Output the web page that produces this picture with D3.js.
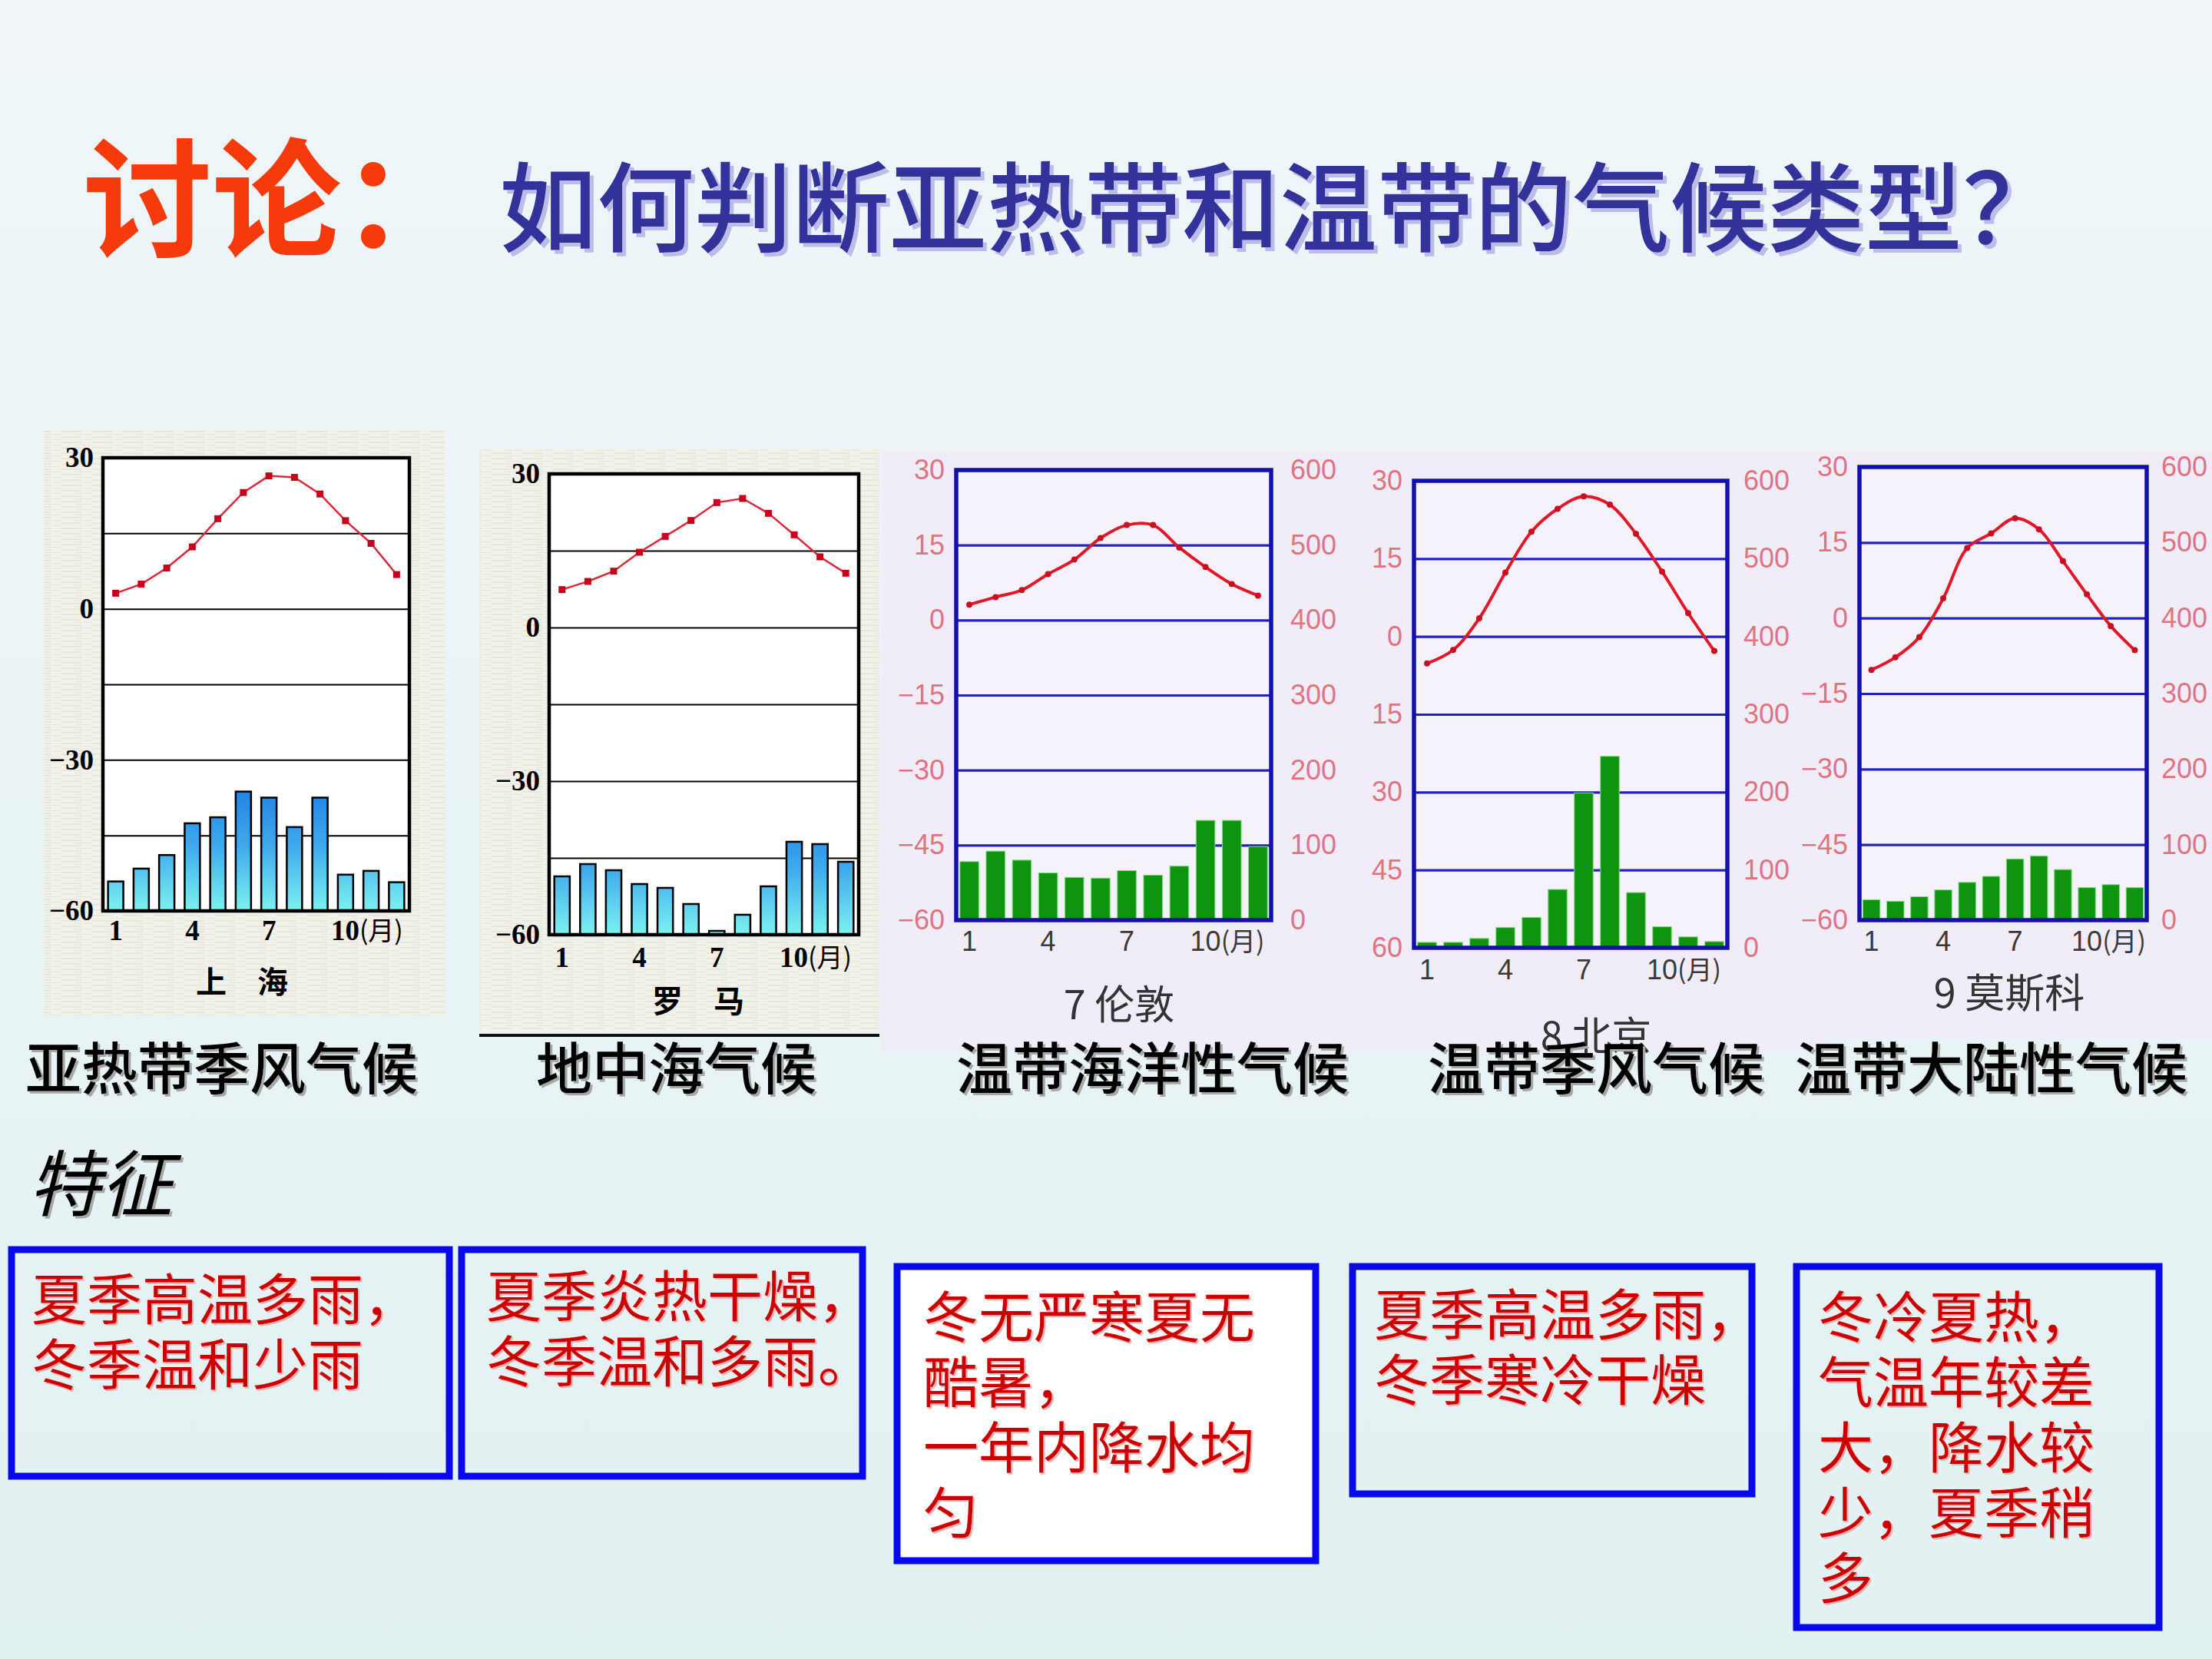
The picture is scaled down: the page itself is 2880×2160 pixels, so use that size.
<!DOCTYPE html>
<html lang="zh">
<head>
<meta charset="UTF-8">
<title>亚热带和温带的气候类型</title>
<script src="https://d3js.org/d3.v7.min.js"></script>
<style>
  html, body { margin: 0; padding: 0; background: #eef5f8; }
  svg { display: block; }
</style>
</head>
<body>
<div id="slide"></div>
<script>
// ---------- data ----------
const months = [1, 2, 3, 4, 5, 6, 7, 8, 9, 10, 11, 12];
const monthTicks = [1, 4, 7, 10];
const monthUnit = "(月)";
const tempTicksOld = [30, 0, -30, -60];
const tempTicks = [30, 15, 0, -15, -30, -45, -60];
const tempGrid = [15, 0, -15, -30, -45];
const rainTicks = [0, 100, 200, 300, 400, 500, 600];

// temperature (°C) and rainfall (mm) per month
const shanghaiTemp = [3.1, 4.9, 8.1, 12.3, 17.9, 23.1, 26.4, 26.1, 22.8, 17.5, 13.0, 6.8];
const shanghaiRain = [39, 56, 74, 116, 124, 158, 150, 111, 150, 48, 53, 38];
const romeTemp = [7.4, 9.0, 11.0, 14.7, 17.8, 20.9, 24.4, 25.2, 22.3, 18.1, 13.8, 10.6];
const romeRain = [76, 92, 84, 66, 61, 40, 5, 26, 63, 121, 118, 95];
const londonTemp = [3.1, 4.6, 6.0, 9.2, 12.1, 16.4, 19.0, 19.0, 14.5, 10.6, 7.2, 4.9];
const londonRain = [78, 92, 80, 63, 57, 56, 66, 60, 72, 133, 133, 98];
const beijingTemp = [-5.2, -2.6, 3.5, 12.3, 20.2, 24.6, 27.0, 25.4, 19.8, 12.5, 4.5, -2.8];
const beijingRain = [7, 7, 12, 26, 39, 75, 199, 246, 71, 27, 14, 8];
const moscowTemp = [-10.3, -7.8, -3.8, 3.9, 13.9, 16.8, 19.8, 17.6, 11.3, 4.7, -1.6, -6.4];
const moscowRain = [27, 25, 31, 40, 50, 58, 81, 85, 67, 43, 47, 43];

const cityNames = ["上　海", "罗　马", "7  伦敦", "8 北京", "9  莫斯科"];
const climateTypes = ["亚热带季风气候", "地中海气候", "温带海洋性气候", "温带季风气候", "温带大陆性气候"];
const features = [
  ["夏季高温多雨，", "冬季温和少雨"],
  ["夏季炎热干燥，", "冬季温和多雨。"],
  ["冬无严寒夏无", "酷暑，", "一年内降水均", "匀"],
  ["夏季高温多雨，", "冬季寒冷干燥"],
  ["冬冷夏热，", "气温年较差", "大，降水较", "少，夏季稍", "多"]
];
const titleRed = "讨论：";
const titleBlue = "如何判断亚热带和温带的气候类型？";
const featureHead = "特征";

const temps = [shanghaiTemp, romeTemp, londonTemp, beijingTemp, moscowTemp];
const rains = [shanghaiRain, romeRain, londonRain, beijingRain, moscowRain];

// ---------- layout ----------
const W = 2880, H = 2160;
const frames = [
  {x0: 134, x1: 533, y0: 596, y1: 1186, labelRight: 122, monthY: 1224, nameX: 315, nameY: 1293, style: "old"},
  {x0: 715, x1: 1118, y0: 617, y1: 1217, labelRight: 703, monthY: 1259, nameX: 909, nameY: 1318, style: "old"},
  {x0: 1245, x1: 1655, y0: 612, y1: 1198, labelRight: 1230, rightX: 1680, monthY: 1238, nameX: 1457, nameY: 1327, style: "new"},
  {x0: 1841, x1: 2249, y0: 626, y1: 1234, labelRight: 1826, rightX: 2270, monthY: 1275, nameX: 2078, nameY: 1368, style: "new", absLabels: true},
  {x0: 2421, x1: 2795, y0: 608, y1: 1198, labelRight: 2406, rightX: 2814, monthY: 1238, nameX: 2616, nameY: 1312, style: "new"}
];
const typeX = [33, 698, 1245, 1859, 2337];
const boxes = [
  {x: 15, y: 1627, w: 570, h: 295, fill: "none", tx: 41, ty: 1718},
  {x: 601, y: 1627, w: 522, h: 295, fill: "none", tx: 633, ty: 1714},
  {x: 1168, y: 1649, w: 545, h: 383, fill: "#ffffff", tx: 1202, ty: 1741},
  {x: 1761, y: 1649, w: 520, h: 296, fill: "none", tx: 1789, ty: 1738},
  {x: 2339, y: 1649, w: 472, h: 470, fill: "none", tx: 2367, ty: 1741}
];

const svg = d3.select("#slide").append("svg")
  .attr("width", W).attr("height", H);
const defs = svg.append("defs");

const bg = defs.append("linearGradient").attr("id", "bg")
  .attr("x1", 0).attr("y1", 0).attr("x2", 0).attr("y2", 1);
bg.append("stop").attr("offset", 0).attr("stop-color", "#f0f6f9");
bg.append("stop").attr("offset", 1).attr("stop-color", "#e2f1f2");

// paper texture for the two old-style charts
const pat = defs.append("pattern").attr("id", "paper")
  .attr("patternUnits", "userSpaceOnUse").attr("width", 40).attr("height", 7);
pat.append("rect").attr("width", 40).attr("height", 7).attr("fill", "#f3f2ea");
pat.append("line").attr("x1", 0).attr("x2", 26).attr("y1", 2).attr("y2", 2)
  .attr("stroke", "#e2e0d2").attr("stroke-width", 1.2);
pat.append("line").attr("x1", 18).attr("x2", 40).attr("y1", 5.5).attr("y2", 5.5)
  .attr("stroke", "#e8e6da").attr("stroke-width", 1);

function shadow(id, dx, dy, color) {
  defs.append("filter").attr("id", id)
    .attr("x", "-5%").attr("y", "-5%").attr("width", "115%").attr("height", "120%")
    .append("feDropShadow").attr("dx", dx).attr("dy", dy)
    .attr("stdDeviation", 0.6).attr("flood-color", color);
}
shadow("shBlue", 5, 5, "#bcbce8");
shadow("shGray", 3, 3, "#a8a8a8");
shadow("shRed", 2, 2, "#f2b0b0");

svg.append("rect").attr("width", W).attr("height", H).attr("fill", "url(#bg)");

// chart backdrops
svg.append("rect").attr("x", 57).attr("y", 560).attr("width", 522).attr("height", 762).attr("fill", "url(#paper)");
svg.append("rect").attr("x", 624).attr("y", 584).attr("width", 521).attr("height", 758).attr("fill", "url(#paper)");
svg.append("line").attr("x1", 624).attr("x2", 1145).attr("y1", 1348).attr("y2", 1348)
  .attr("stroke", "#111").attr("stroke-width", 4);
svg.append("rect").attr("x", 1148).attr("y", 588).attr("width", 1231).attr("height", 782).attr("fill", "#f1edf8");
svg.append("rect").attr("x", 2379).attr("y", 588).attr("width", 501).attr("height", 763).attr("fill", "#f1edf8");

// ---------- charts ----------
function drawChart(i) {
  const f = frames[i];
  const old = f.style === "old";
  const temp = temps[i], rain = rains[i];
  const g = svg.append("g");

  const x = d3.scaleBand().domain(months).range([f.x0, f.x1])
    .paddingInner(old ? 0.4 : 0.28).paddingOuter(old ? 0.2 : 0.14);
  const yT = d3.scaleLinear().domain([-60, 30]).range([f.y1, f.y0]);
  const yP = d3.scaleLinear().domain([0, 600]).range([f.y1, f.y0]);
  const cx = j => x(months[j]) + x.bandwidth() / 2;

  g.append("rect").attr("x", f.x0).attr("y", f.y0)
    .attr("width", f.x1 - f.x0).attr("height", f.y1 - f.y0)
    .attr("fill", old ? "#ffffff" : "#f5f2fb");

  // horizontal grid lines
  g.append("g").attr("transform", `translate(${f.x0},0)`)
    .call(d3.axisLeft(yT).tickValues(tempGrid).tickSize(-(f.x1 - f.x0)).tickFormat(""))
    .call(a => a.select(".domain").remove())
    .selectAll("line")
    .attr("stroke", old ? "#000" : "#2222c0")
    .attr("stroke-width", old ? 2 : 3.2);

  // rainfall bars
  if (old) {
    const gid = "bar" + i;
    const gr = defs.append("linearGradient").attr("id", gid)
      .attr("gradientUnits", "userSpaceOnUse")
      .attr("x1", 0).attr("x2", 0).attr("y1", yT(-34)).attr("y2", yT(-60));
    gr.append("stop").attr("offset", 0).attr("stop-color", "#1f7ce2");
    gr.append("stop").attr("offset", 0.5).attr("stop-color", "#3ea9ec");
    gr.append("stop").attr("offset", 1).attr("stop-color", "#7cf2f0");
    g.selectAll("rect.bar").data(rain).join("rect").attr("class", "bar")
      .attr("x", (d, j) => x(months[j])).attr("y", d => yP(d))
      .attr("width", x.bandwidth()).attr("height", d => yP(0) - yP(d))
      .attr("fill", `url(#${gid})`).attr("stroke", "#000").attr("stroke-width", 2.5);
  } else {
    g.selectAll("rect.bar").data(rain).join("rect").attr("class", "bar")
      .attr("x", (d, j) => x(months[j])).attr("y", d => yP(d))
      .attr("width", x.bandwidth()).attr("height", d => yP(0) - yP(d))
      .attr("fill", "#0e940e").attr("stroke", "#7ee07e").attr("stroke-width", 1);
  }

  // frame
  g.append("rect").attr("x", f.x0).attr("y", f.y0)
    .attr("width", f.x1 - f.x0).attr("height", f.y1 - f.y0)
    .attr("fill", "none")
    .attr("stroke", old ? "#000" : "#1212aa")
    .attr("stroke-width", old ? 4.5 : 5.5);

  // temperature curve
  const line = d3.line().x((d, j) => cx(j)).y(d => yT(d))
    .curve(old ? d3.curveLinear : d3.curveCatmullRom.alpha(0.5));
  g.append("path").datum(temp).attr("d", line)
    .attr("fill", "none").attr("stroke", old ? "#d82a3a" : "#e01828")
    .attr("stroke-width", old ? 2.5 : 4);
  if (old) {
    g.selectAll("rect.pt").data(temp).join("rect").attr("class", "pt")
      .attr("x", (d, j) => cx(j) - 4.5).attr("y", d => yT(d) - 4.5)
      .attr("width", 9).attr("height", 9).attr("fill", "#c8001c");
  } else {
    g.selectAll("circle.pt").data(temp).join("circle").attr("class", "pt")
      .attr("cx", (d, j) => cx(j)).attr("cy", d => yT(d)).attr("r", 4)
      .attr("fill", "#c81020");
  }

  // left temperature labels
  const fmt = f.absLabels ? (d => String(Math.abs(d))) : (d => d < 0 ? "−" + Math.abs(d) : String(d));
  const left = g.append("g").attr("transform", `translate(${f.labelRight},0)`)
    .call(d3.axisLeft(yT).tickValues(old ? tempTicksOld : tempTicks).tickSize(0).tickPadding(0).tickFormat(fmt))
    .call(a => a.select(".domain").remove());
  left.selectAll("text")
    .attr("font-family", old ? "Liberation Serif, serif" : "Liberation Sans, Arial, sans-serif")
    .attr("font-weight", old ? 700 : 400)
    .attr("font-size", old ? 37 : 36)
    .attr("fill", old ? "#000" : "#e07482");

  // right rainfall labels
  if (!old) {
    const right = g.append("g").attr("transform", `translate(${f.rightX},0)`)
      .call(d3.axisRight(yP).tickValues(rainTicks).tickSize(0).tickPadding(0))
      .call(a => a.select(".domain").remove());
    right.selectAll("text")
      .attr("font-family", "Liberation Sans, Arial, sans-serif")
      .attr("font-size", 36).attr("fill", "#e07482");
  }

  // month labels
  const bottom = g.append("g").attr("transform", `translate(0,${f.monthY})`)
    .call(d3.axisBottom(x).tickValues(monthTicks).tickSize(0).tickPadding(0))
    .call(a => a.select(".domain").remove());
  bottom.selectAll("text")
    .attr("y", 0).attr("dy", null)
    .attr("font-family", old ? "Liberation Serif, serif" : "Liberation Sans, Arial, sans-serif")
    .attr("font-weight", old ? 700 : 400)
    .attr("font-size", old ? 37 : 36)
    .attr("fill", old ? "#000" : "#3a3a3a");
  bottom.selectAll(".tick").filter(d => d === monthTicks[monthTicks.length - 1])
    .select("text").attr("text-anchor", "start").attr("x", old ? -19 : -20)
    .append("tspan").attr("font-weight", 400).attr("font-family", "Noto Sans CJK SC, sans-serif")
    .attr("font-size", 34).text(monthUnit);

  // city name
  g.append("text").attr("x", f.nameX).attr("y", f.nameY)
    .attr("text-anchor", "middle")
    .attr("font-family", "Noto Sans CJK SC, sans-serif")
    .attr("font-weight", old ? 700 : 400)
    .attr("font-size", old ? 40 : 52)
    .attr("fill", old ? "#000" : "#333")
    .text(cityNames[i]);
}
frames.forEach((f, i) => drawChart(i));

// ---------- text ----------
svg.append("text").attr("x", 108).attr("y", 322)
  .attr("font-family", "Noto Sans CJK SC, sans-serif").attr("font-weight", 700)
  .attr("font-size", 168).attr("fill", "#f63a0c")
  .text(titleRed);
svg.append("text").attr("x", 650).attr("y", 318)
  .attr("font-family", "Noto Sans CJK SC, sans-serif").attr("font-weight", 500)
  .attr("font-size", 127).attr("fill", "#30309a").attr("filter", "url(#shBlue)")
  .text(titleBlue);

svg.selectAll("text.type").data(climateTypes).join("text").attr("class", "type")
  .attr("x", (d, i) => typeX[i]).attr("y", 1418)
  .attr("font-family", "Noto Sans CJK SC, sans-serif").attr("font-weight", 500)
  .attr("font-size", 73).attr("fill", "#000").attr("filter", "url(#shGray)")
  .text(d => d);

svg.append("text").attr("x", 37).attr("y", 1576)
  .attr("font-family", "Noto Sans CJK SC, sans-serif").attr("font-weight", 400)
  .attr("font-style", "italic").attr("font-size", 94).attr("fill", "#000")
  .attr("filter", "url(#shGray)")
  .text(featureHead);

boxes.forEach((b, i) => {
  svg.append("rect").attr("x", b.x).attr("y", b.y).attr("width", b.w).attr("height", b.h)
    .attr("fill", b.fill).attr("stroke", "#0808ee").attr("stroke-width", 9);
  svg.append("g").selectAll("text").data(features[i]).join("text")
    .attr("x", b.tx).attr("y", (d, j) => b.ty + j * 85)
    .attr("font-family", "Noto Sans CJK SC, sans-serif").attr("font-weight", 400)
    .attr("font-size", 72).attr("fill", "#cc0000").attr("filter", "url(#shRed)")
    .text(d => d);
});
</script>
</body>
</html>
